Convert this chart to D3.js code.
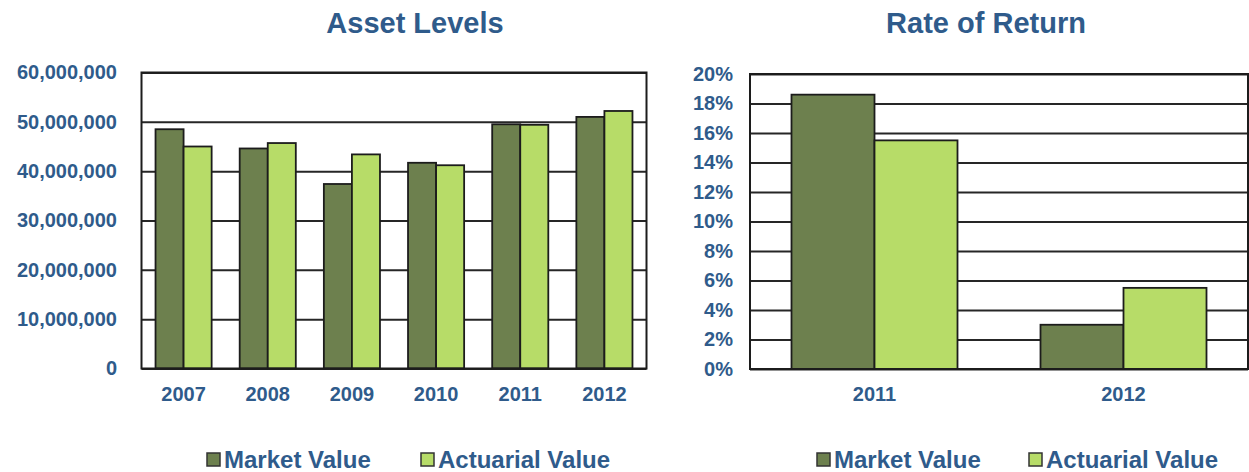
<!DOCTYPE html>
<html>
<head>
<meta charset="utf-8">
<script src="https://cdn.jsdelivr.net/npm/d3@7"></script>
<style>
  html, body { margin: 0; padding: 0; background: #ffffff; }
  svg { display: block; font-family: "Liberation Sans", Arial, Helvetica, sans-serif; }
</style>
</head>
<body>
<svg id="chart" width="1249" height="472"></svg>
<script>
// Asset levels by plan year (dollars)
const assetYears = ["2007", "2008", "2009", "2010", "2011", "2012"];
const assetMarket = [48500000, 44600000, 37400000, 41700000, 49500000, 51000000];
const assetActuarial = [45000000, 45700000, 43400000, 41200000, 49400000, 52200000];
const assetTicks = [0, 10000000, 20000000, 30000000, 40000000, 50000000, 60000000];

// Rate of return by plan year
const returnYears = ["2011", "2012"];
const returnMarket = [0.186, 0.030];
const returnActuarial = [0.155, 0.055];
const returnTicks = [0, 0.02, 0.04, 0.06, 0.08, 0.10, 0.12, 0.14, 0.16, 0.18, 0.20];

const seriesNames = ["Market Value", "Actuarial Value"];

const textBlue = "#2f5b8b";
const marketFill = "#6d804e";
const actuarialFill = "#b7dc68";
const edge = "#1c1c1c";

const svg = d3.select("#chart");

function drawPanel(cfg) {
  const g = svg.append("g");

  const x = d3.scaleBand().domain(cfg.categories).range([cfg.left, cfg.right]).padding(0);
  const step = x.bandwidth();
  const xs = d3.scaleBand().domain(seriesNames).range([step / 6, step * 5 / 6]).padding(0);
  const y = d3.scaleLinear().domain([0, cfg.max]).range([cfg.bottom, cfg.top]);

  // title
  g.append("text")
    .attr("x", cfg.titleX)
    .attr("y", 33)
    .attr("text-anchor", "middle")
    .attr("fill", textBlue)
    .attr("font-weight", "bold")
    .attr("font-size", 29)
    .text(cfg.title);

  // horizontal gridlines
  const grid = g.append("g")
    .attr("transform", `translate(${cfg.left},0)`)
    .call(d3.axisLeft(y).tickValues(cfg.ticks).tickSize(-(cfg.right - cfg.left)).tickFormat(""));
  grid.select(".domain").remove();
  grid.selectAll("line").attr("stroke", "#262626").attr("stroke-width", 2);

  // bars
  const rows = cfg.categories.map((c, i) => ({ cat: c, vals: [cfg.market[i], cfg.actuarial[i]] }));
  const groups = g.selectAll("g.cat").data(rows).join("g")
    .attr("class", "cat")
    .attr("transform", d => `translate(${x(d.cat)},0)`);
  groups.selectAll("rect")
    .data(d => d.vals.map((v, k) => ({ key: seriesNames[k], v })))
    .join("rect")
    .attr("x", d => xs(d.key))
    .attr("y", d => y(d.v))
    .attr("width", xs.bandwidth())
    .attr("height", d => y(0) - y(d.v))
    .attr("fill", d => d.key === seriesNames[0] ? marketFill : actuarialFill)
    .attr("stroke", edge)
    .attr("stroke-width", 1.8);

  // plot frame
  g.append("rect")
    .attr("x", cfg.left)
    .attr("y", cfg.top)
    .attr("width", cfg.right - cfg.left)
    .attr("height", cfg.bottom - cfg.top)
    .attr("fill", "none")
    .attr("stroke", edge)
    .attr("stroke-width", 2);

  // y axis labels
  const ya = g.append("g")
    .attr("transform", `translate(${cfg.labelRight},0)`)
    .call(d3.axisLeft(y).tickValues(cfg.ticks).tickSize(0).tickPadding(0).tickFormat(cfg.fmt));
  ya.select(".domain").remove();
  ya.selectAll("text")
    .attr("fill", textBlue)
    .attr("font-weight", "bold")
    .attr("font-size", 20)
    .attr("font-family", "Liberation Sans, Arial, sans-serif");

  // x axis labels
  const xa = g.append("g")
    .attr("transform", `translate(0,${cfg.bottom})`)
    .call(d3.axisBottom(x).tickSize(0).tickPadding(18));
  xa.select(".domain").remove();
  xa.selectAll("text")
    .attr("fill", textBlue)
    .attr("font-weight", "bold")
    .attr("font-size", 20)
    .attr("font-family", "Liberation Sans, Arial, sans-serif");

  // legend
  const leg = g.append("g");
  cfg.legendX.forEach((lx, k) => {
    leg.append("rect")
      .attr("x", lx)
      .attr("y", 453)
      .attr("width", 13)
      .attr("height", 13)
      .attr("fill", k === 0 ? marketFill : actuarialFill)
      .attr("stroke", "#333")
      .attr("stroke-width", 1.5);
    leg.append("text")
      .attr("x", lx + 17)
      .attr("y", 468)
      .attr("fill", textBlue)
      .attr("font-weight", "bold")
      .attr("font-size", 24)
      .text(seriesNames[k]);
  });
}

drawPanel({
  title: "Asset Levels",
  titleX: 415,
  categories: assetYears,
  market: assetMarket,
  actuarial: assetActuarial,
  ticks: assetTicks,
  max: 60000000,
  fmt: d3.format(","),
  left: 141.5, right: 646.5, top: 72.5, bottom: 368.5,
  labelRight: 117,
  legendX: [207, 421]
});

drawPanel({
  title: "Rate of Return",
  titleX: 986,
  categories: returnYears,
  market: returnMarket,
  actuarial: returnActuarial,
  ticks: returnTicks,
  max: 0.20,
  fmt: d3.format(".0%"),
  left: 750, right: 1248, top: 74, bottom: 369,
  labelRight: 733,
  legendX: [817, 1029]
});
</script>
</body>
</html>
